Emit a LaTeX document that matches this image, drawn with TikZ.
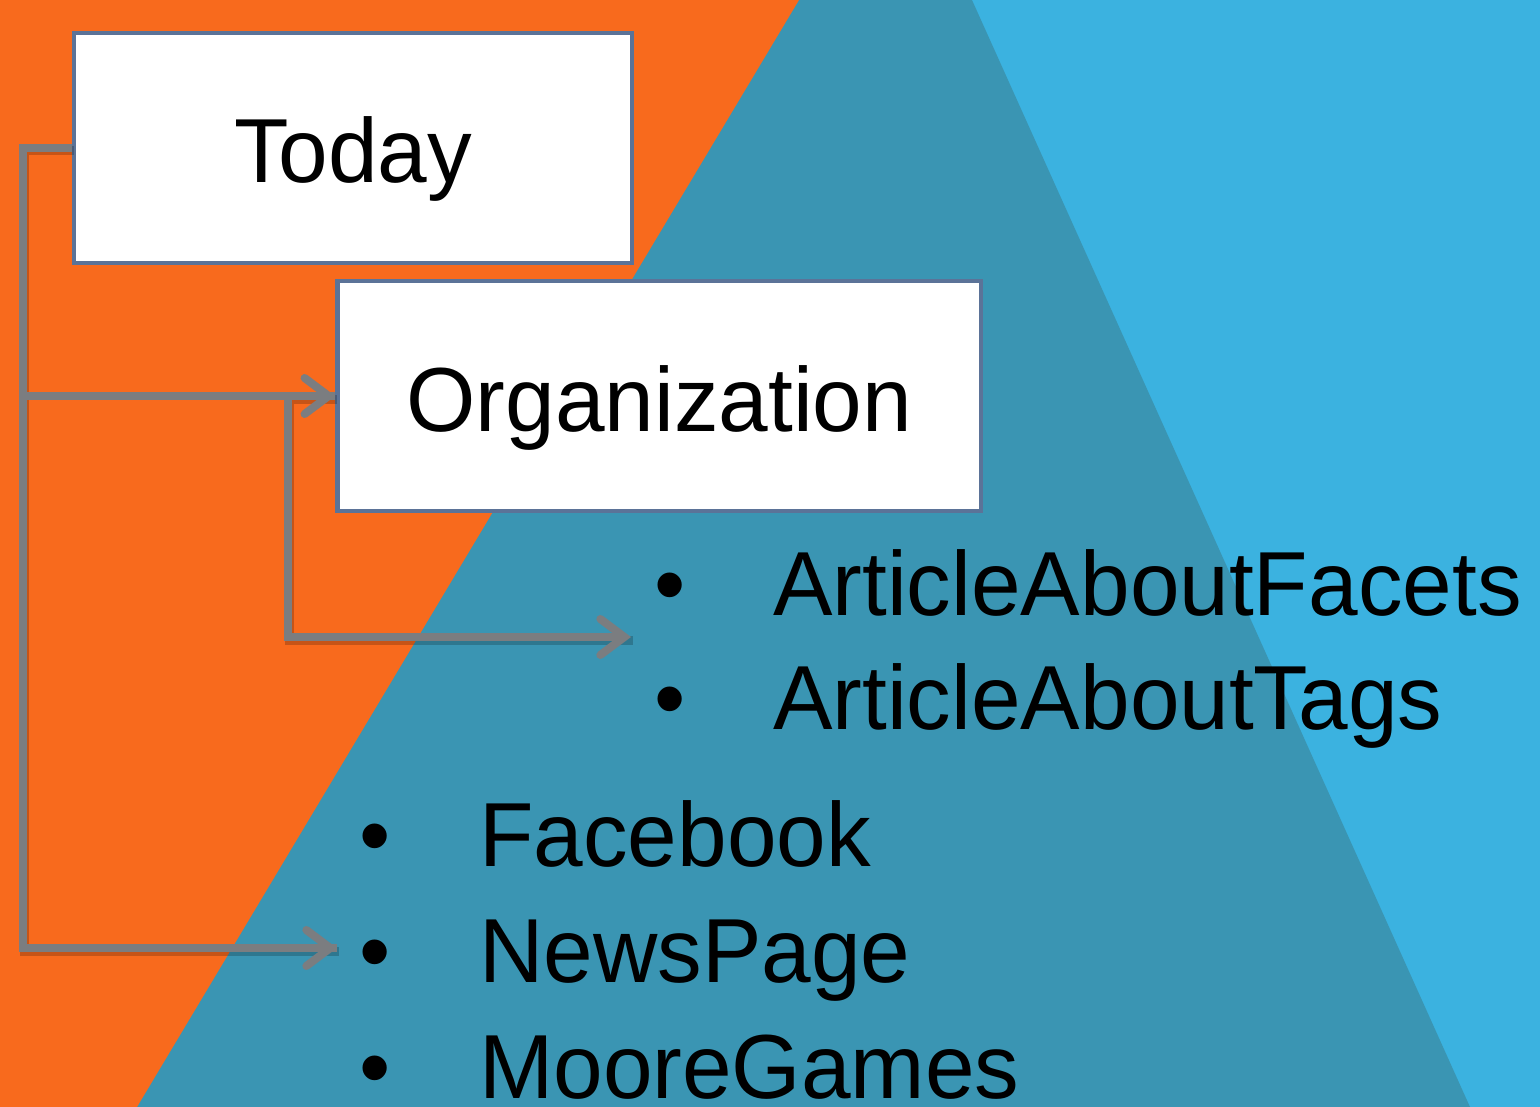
\documentclass[tikz,border=0pt]{standalone}
\usepackage{fontspec}
\setmainfont[FakeStretch=0.98]{Liberation Sans}
\usetikzlibrary{arrows.meta}
\definecolor{bgorange}{HTML}{F86A1D}
\definecolor{bgteal}{HTML}{3A95B3}
\definecolor{bgblue}{HTML}{3BB2E0}
\definecolor{boxline}{HTML}{5B7398}
\definecolor{conngray}{HTML}{7B7D80}
\tikzset{
  bigtext/.style={font=\fontsize{91}{91}\selectfont, text=black},
  titlebox/.style={draw=boxline, line width=4.5pt, fill=white, inner sep=0pt, text depth=0pt, bigtext},
  listtext/.style={bigtext, anchor=base west, inner sep=0pt},
  bullettext/.style={bigtext, anchor=base, inner sep=0pt},
  conn/.style={draw=conngray, line width=8pt, -{Straight Barb[length=24pt, width=36pt, line cap=round]}},
  connplain/.style={draw=conngray, line width=8pt},
  shade/.style={draw=black, opacity=0.2, line width=9pt, transform canvas={shift={(2pt,-3pt)}}},
  listbox/.style={inner sep=0pt, draw=none}
}
\begin{document}
\begin{tikzpicture}[x=1pt,y=-1pt]
\useasboundingbox (0,0) rectangle (1540,1107);
% background
\fill[bgblue] (0,0) rectangle (1540,1107);
\fill[bgteal] (0,0) -- (972,0) -- (1470,1107) -- (0,1107) -- cycle;
\fill[bgorange] (0,0) -- (799,0) -- (137,1107) -- (0,1107) -- cycle;

% boxes
\node[titlebox, minimum width=558pt, minimum height=230pt, text height=69pt] (today) at (353,148) {Today};
\node[titlebox, minimum width=643.5pt, minimum height=230pt, text height=71pt] (org) at (659.25,396) {Organization};

% invisible list anchors
\node[listbox, minimum width=900pt, minimum height=230pt, anchor=west] (list1) at (631,637) {};
\node[listbox, minimum width=700pt, minimum height=340pt, anchor=west] (list2) at (337,948) {};

% list texts
\node[bullettext] (b1) at (670,615) {•};
\node[listtext] (t1) at (773,615) {ArticleAboutFacets};
\node[bullettext] (b2) at (670,729) {•};
\node[listtext] (t2) at (773,729) {ArticleAboutTags};
\node[bullettext] (b3) at (375,866) {•};
\node[listtext] (t3) at (479,866) {Facebook};
\node[bullettext] (b4) at (375,982) {•};
\node[listtext] (t4) at (479,982) {NewsPage};
\node[bullettext] (b5) at (375,1098) {•};
\node[listtext] (t5) at (479,1098) {MooreGames};

% connector shadows
\draw[shade] (today.west) -- ++(-49,0) |- (list2.west);
\draw[shade] (org.west) -- ++(-47.5,0) |- (list1.west);
% connectors
\draw[connplain] (today.west) -- ++(-49,0) coordinate (j1) |- (list2.west);
\draw[conn] (today.west) -- (j1) |- (list2.west);
\draw[conn] (j1) |- (org.west);
\draw[conn] (org.west) -- ++(-47.5,0) |- (list1.west);
\end{tikzpicture}
\end{document}
